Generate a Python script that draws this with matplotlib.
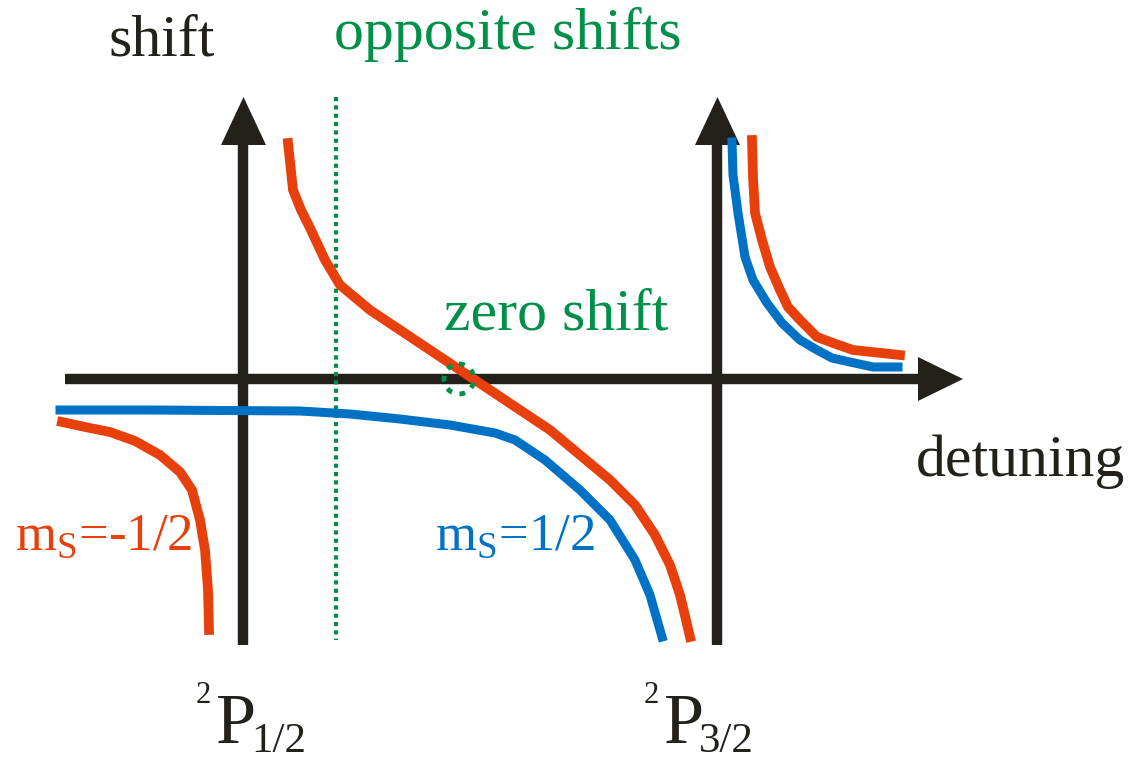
import matplotlib.pyplot as plt
from matplotlib.patches import Polygon, Circle

plt.rcParams['font.family'] = ['Liberation Serif', 'DejaVu Serif']
plt.rcParams['mathtext.fontset'] = 'custom'
plt.rcParams['mathtext.rm'] = 'Liberation Serif'

RED = '#e8400c'
BLUE = '#0072c6'
GREEN = '#00904a'
BLACK = '#24201c'

# curves (pixel coordinates, y downwards)
red_mid_x = [288, 293, 301, 310, 325, 340, 370, 400, 430, 460, 490, 520, 550, 580, 610, 635, 655, 670, 680, 686, 690]
red_mid_y = [143, 190, 210, 228, 260, 285, 310, 330, 350, 370, 390, 410, 430, 455, 480, 505, 535, 565, 595, 620, 637]
blue_mid_x = [60, 150, 300, 350, 400, 450, 495, 515, 545, 580, 610, 635, 650, 662]
blue_mid_y = [410, 410, 411, 414, 419, 425, 433, 440, 460, 490, 520, 560, 595, 637]
red_left_x = [62, 85, 110, 135, 160, 180, 192, 200, 205, 208, 209]
red_left_y = [422, 427, 432, 441, 455, 472, 490, 520, 550, 590, 630]
blue_right_x = [732, 733, 738, 745, 753, 767, 782, 800, 817, 832, 850, 873, 898]
blue_right_y = [142, 175, 213, 257, 280, 303, 323, 340, 350, 358, 362, 367, 367]
red_right_x = [752, 753, 755, 762, 770, 780, 788, 800, 817, 833, 853, 900]
red_right_y = [140, 177, 213, 240, 267, 290, 307, 320, 337, 343, 350, 355]

level_x = [243, 717]
level_label_x = [196, 644]
level_sub = ['1/2', '3/2']

fig = plt.figure(figsize=(11.3, 7.66), dpi=100)
ax = fig.add_axes([0, 0, 1, 1])
ax.set_xlim(0, 1130)
ax.set_ylim(766, 0)
ax.axis('off')

# axes with arrow heads
ax.plot([65, 925], [379, 379], color=BLACK, lw=7.5, solid_capstyle='butt')
ax.add_patch(Polygon([[918, 357], [918, 401], [963, 379]], closed=True, color=BLACK, lw=0))
for xa in level_x:
    ax.plot([xa, xa], [645, 140], color=BLACK, lw=7.5, solid_capstyle='butt')
    ax.add_patch(Polygon([[xa - 22, 145], [xa + 23, 145], [xa + 0.5, 97]], closed=True, color=BLACK, lw=0))

# opposite shifts marker
ax.plot([336, 336], [97, 640], color=GREEN, lw=3, linestyle=(0, (1, 1)))

# curves
ax.plot(blue_mid_x, blue_mid_y, color=BLUE, lw=6.5, solid_joinstyle='miter')
ax.plot(red_mid_x, red_mid_y, color=RED, lw=7, solid_joinstyle='miter')
ax.plot(red_left_x, red_left_y, color=RED, lw=7, solid_joinstyle='miter')
ax.plot(blue_right_x, blue_right_y, color=BLUE, lw=6.5, solid_joinstyle='miter')
ax.plot(red_right_x, red_right_y, color=RED, lw=7, solid_joinstyle='miter')

# zero shift marker
ax.add_patch(Circle((459, 379), 15, fill=False, edgecolor=GREEN, lw=3.5,
                    linestyle=(0, (1.2, 1.6)), zorder=5))

# labels
ax.text(162, 42, 'shift', fontsize=43, color=BLACK, ha='center', va='center')
ax.text(508, 35, 'opposite shifts', fontsize=43, color=GREEN, ha='center', va='center')
ax.text(556, 315, 'zero shift', fontsize=43, color=GREEN, ha='center', va='center')
ax.text(1020, 462, 'detuning', fontsize=43, color=BLACK, ha='center', va='center')
ax.text(15, 550, r'm$_\mathrm{S}$=-1/2', fontsize=38, color=RED, ha='left', va='baseline')
ax.text(435, 550, r'm$_\mathrm{S}$=1/2', fontsize=38, color=BLUE, ha='left', va='baseline')

for x0, sub in zip(level_label_x, level_sub):
    ax.text(x0, 703, '2', fontsize=22, color=BLACK, ha='left', va='baseline')
    ax.text(x0 + 20, 743, 'P', fontsize=52, color=BLACK, ha='left', va='baseline')
    ax.text(x0 + 55, 752, sub, fontsize=31, color=BLACK, ha='left', va='baseline')

fig.savefig('out.png', dpi=100, facecolor='white')
